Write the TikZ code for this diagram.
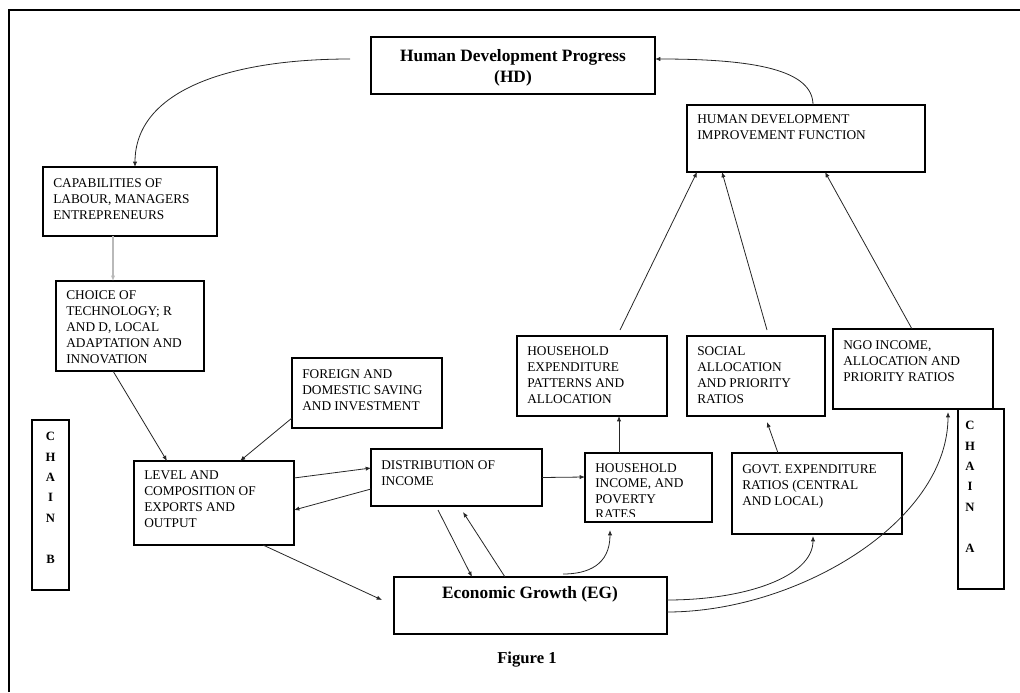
\documentclass[tikz,border=0pt]{standalone}
\usepackage{fontspec}
\setmainfont{Liberation Serif}
\usetikzlibrary{arrows.meta}
\begin{document}
\begin{tikzpicture}[x=0.75pt,y=-0.75pt,
  box/.style={draw, line width=2pt, inner sep=0pt, outer sep=0pt, anchor=north west},
  sz/.style n args={2}{minimum width=#1*0.75pt, minimum height=#2*0.75pt},
  txt/.style={inner sep=0pt, anchor=north west, align=left, font=\fontsize{10}{12}\selectfont},
  ttl/.style={inner sep=0pt, align=center, font=\fontsize{13}{16}\selectfont\bfseries},
  chain/.style={inner sep=0pt, anchor=north, align=center, font=\fontsize{9.5}{15.3}\selectfont\bfseries},
  arr/.style={-{Latex[length=4pt,width=3.2pt]}, line width=0.6pt, black!85}]
\useasboundingbox (0,0) rectangle (1020,692);
% frame
\coordinate (fbl) at (9,692);
\coordinate (ftl) at (9,10);
\coordinate (ftr) at (1020,10);
\draw[line width=1.2pt] (fbl) -- (ftl) -- (ftr);

% boxes
\node[box, sz={284}{57}] (hd) at (371,37) {};
\node[box, sz={238}{67}] (hdif) at (687,105) {};
\node[box, sz={174}{69}] (cap) at (43,167) {};
\node[box, sz={148}{90}] (choice) at (56,281) {};
\node[box, sz={150}{70}] (foreign) at (292,358) {};
\node[box, sz={37}{170}] (chainb) at (32,420) {};
\node[box, sz={160}{84}] (level) at (134,461) {};
\node[box, sz={171}{57}] (dist) at (371,449) {};
\node[box, sz={273}{57}] (eg) at (394,577) {};
\node[box, sz={150}{80}] (hhexp) at (517,336) {};
\node[box, sz={138}{80}] (social) at (687,336) {};
\node[box, sz={160}{80}] (ngo) at (833,329) {};
\node[box, sz={46}{180}] (chaina) at (958,409) {};
\node[box, sz={127}{69}] (hhinc) at (585,453) {};
\node[box, sz={170}{81}] (govt) at (732,453) {};

% texts
\node[ttl] (hdt) at (513,68) {Human Development Progress\\(HD)};
\node[ttl] (egt) at (530,594) {Economic Growth (EG)};
\node[ttl, font=\fontsize{12.5}{15}\selectfont\bfseries] (fig) at (527,660) {Figure 1};
\node[txt] (hdiftx) at ([shift={(10,9)}]hdif.north west) {HUMAN DEVELOPMENT\\IMPROVEMENT FUNCTION};
\node[txt] (captx) at ([shift={(10,11)}]cap.north west) {CAPABILITIES OF\\LABOUR, MANAGERS\\ENTREPRENEURS};
\node[txt] (choicetx) at ([shift={(10,9)}]choice.north west) {CHOICE OF\\TECHNOLOGY; R\\AND D, LOCAL\\ADAPTATION AND\\INNOVATION};
\node[txt] (foreigntx) at ([shift={(10,11)}]foreign.north west) {FOREIGN AND\\DOMESTIC SAVING\\AND INVESTMENT};
\node[txt] (leveltx) at ([shift={(10,9)}]level.north west) {LEVEL AND\\COMPOSITION OF\\EXPORTS AND\\OUTPUT};
\node[txt] (disttx) at ([shift={(10,11)}]dist.north west) {DISTRIBUTION OF\\INCOME};
\node[txt] (hhexptx) at ([shift={(10,10)}]hhexp.north west) {HOUSEHOLD\\EXPENDITURE\\PATTERNS AND\\ALLOCATION};
\node[txt] (socialtx) at ([shift={(10,10)}]social.north west) {SOCIAL\\ALLOCATION\\AND PRIORITY\\RATIOS};
\node[txt] (ngotx) at ([shift={(10,11)}]ngo.north west) {NGO INCOME,\\ALLOCATION AND\\PRIORITY RATIOS};
\node[txt] (govttx) at ([shift={(10,11)}]govt.north west) {GOVT. EXPENDITURE\\RATIOS (CENTRAL\\AND LOCAL)};
\begin{scope}
\clip (hhinc.north west) rectangle ([shift={(0,-6)}]hhinc.south east);
\node[txt, font=\fontsize{10}{11.6}\selectfont] (hhinctx) at ([shift={(10,10)}]hhinc.north west) {HOUSEHOLD\\INCOME, AND\\POVERTY\\RATES};
\end{scope}
\node[box, sz={127}{69}] (hhincb) at (585,453) {};
\node[chain] (chainbtx) at ([shift={(0,12)}]chainb.north) {C\\H\\A\\I\\N\\~\\B};
\node[chain] (chainatx) at ([shift={(-11,12)}]chaina.north) {C\\H\\A\\I\\N\\~\\A};

% connectors
\draw[arr] ([shift={(-21,-6.5)}]hd.west) .. controls +(-120,0) and +(0,-77) .. ([shift={(5,0)}]cap.north);
\draw[arr] ([shift={(7,0)}]hdif.north) .. controls +(0,-35) and +(100,0) .. ([shift={(0,-6.5)}]hd.east);
\draw[arr, draw=gray!55, line width=1.2pt] ([shift={(-17,0)}]cap.south) -- ([shift={(-17,0)}]choice.north);
\draw[arr] ([shift={(-17,0)}]choice.south) -- ([shift={(-47,0)}]level.north);
\draw[arr] ([shift={(0,-10)}]foreign.south west) -- ([shift={(26,0)}]level.north);
\draw[arr] ([shift={(0,-25)}]level.east) -- ([shift={(0,-9.5)}]dist.west);
\draw[arr] ([shift={(0,11.5)}]dist.west) -- ([shift={(0,7)}]level.east);
\draw[arr] ([shift={(49,0)}]level.south) -- ([shift={(-12,-5.5)}]eg.west);
\draw[arr] ([shift={(-18.5,4)}]dist.south) -- ([shift={(-58.5,0)}]eg.north);
\draw[arr] ([shift={(-25.5,0)}]eg.north) -- ([shift={(6.5,6)}]dist.south);
\draw[arr] (dist.east) -- ([shift={(0,-10.5)}]hhinc.west);
\draw[arr] ([shift={(-29.5,0)}]hhinc.north) -- ([shift={(27,0)}]hhexp.south);
\draw[arr] ([shift={(32.5,-3)}]eg.north) .. controls +(25,0) and +(0,35) .. ([shift={(-38.5,8)}]hhinc.south);
\draw[arr] ([shift={(-39,0)}]govt.north) -- ([shift={(11,6)}]social.south);
\draw[arr] ([shift={(0,-5.5)}]eg.east) .. controls +(80,0) and +(0,40) .. ([shift={(-4,2)}]govt.south);
\draw[arr] ([shift={(0,6.5)}]eg.east) .. controls +(130,0) and +(0,110) .. ([shift={(35,3)}]ngo.south);
\draw[arr] ([shift={(28,-6)}]hhexp.north) -- ([shift={(-109,0)}]hdif.south);
\draw[arr] ([shift={(11,-6)}]social.north) -- ([shift={(-84,0)}]hdif.south);
\draw[arr] ([shift={(-1,0)}]ngo.north) -- ([shift={(19,0)}]hdif.south);
\end{tikzpicture}
\end{document}
